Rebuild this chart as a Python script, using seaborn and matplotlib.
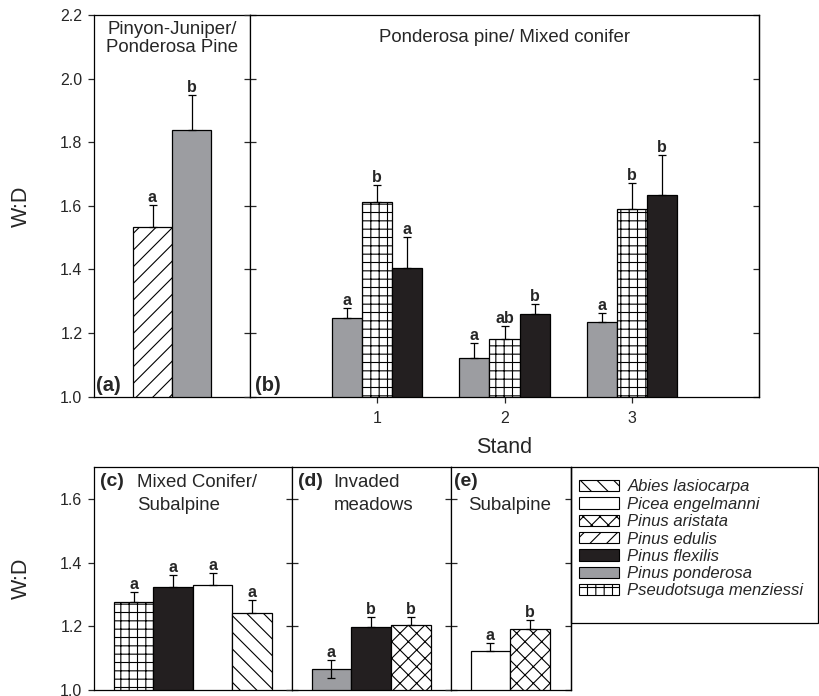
import numpy as np
import pandas as pd
import matplotlib
matplotlib.use("Agg")
import matplotlib.pyplot as plt
import seaborn as sns
from matplotlib.patches import Patch, Rectangle
from matplotlib.ticker import FormatStrFormatter, MultipleLocator

# ---------------- data ----------------
species_order = ["Abies lasiocarpa", "Picea engelmanni", "Pinus aristata", "Pinus edulis",
                 "Pinus flexilis", "Pinus ponderosa", "Pseudotsuga menziessi"]
species_colors = ["white", "white", "white", "white", "#231f20", "#9c9da1", "white"]
species_hatches = ["\\\\", "", "xx", "//", "", "", "++"]

# (a) Pinyon-Juniper / Ponderosa Pine
a_species = ["Pinus edulis", "Pinus ponderosa"]
a_mean = [1.532, 1.837]
a_err = [0.072, 0.110]
a_letters = ["a", "b"]

# (b) Ponderosa pine / Mixed conifer, by stand
b_stands = ["1", "2", "3"]
b_species = ["Pinus ponderosa", "Pseudotsuga menziessi", "Pinus flexilis"]
b_ponderosa = [1.248, 1.121, 1.234]
b_ponderosa_err = [0.032, 0.047, 0.028]
b_pseudotsuga = [1.611, 1.180, 1.589]
b_pseudotsuga_err = [0.054, 0.041, 0.084]
b_flexilis = [1.404, 1.259, 1.633]
b_flexilis_err = [0.099, 0.033, 0.128]
b_letters_ponderosa = ["a", "a", "a"]
b_letters_pseudotsuga = ["b", "ab", "b"]
b_letters_flexilis = ["a", "b", "b"]

# (c) Mixed Conifer / Subalpine
c_species = ["Pseudotsuga menziessi", "Pinus flexilis", "Picea engelmanni", "Abies lasiocarpa"]
c_mean = [1.276, 1.324, 1.331, 1.242]
c_err = [0.031, 0.038, 0.036, 0.042]
c_letters = ["a", "a", "a", "a"]

# (d) Invaded meadows
d_species = ["Pinus ponderosa", "Pinus flexilis", "Pinus aristata"]
d_mean = [1.065, 1.198, 1.204]
d_err = [0.030, 0.033, 0.026]
d_err_low = [0.028, 0.0, 0.0]
d_letters = ["a", "b", "b"]

# (e) Subalpine
e_species = ["Picea engelmanni", "Pinus aristata"]
e_mean = [1.122, 1.192]
e_err = [0.025, 0.027]
e_letters = ["a", "b"]

# ---------------- style ----------------
sns.set_style("ticks")
plt.rcParams["font.family"] = ["Liberation Sans", "DejaVu Sans"]
plt.rcParams["hatch.linewidth"] = 0.8
plt.rcParams["axes.linewidth"] = 0.9
plt.rcParams["axes.edgecolor"] = "black"

palette = dict(zip(species_order, species_colors))
hatch_map = dict(zip(species_order, species_hatches))

W, H = 819, 696
fig = plt.figure(figsize=(W / 100, H / 100), dpi=100)


def px_axes(x0, y0, x1, y1):
    return fig.add_axes([x0 / W, 1 - y1 / H, (x1 - x0) / W, (y1 - y0) / H])


ax_a = px_axes(94, 15, 250, 396.7)
ax_b = px_axes(250, 15, 759, 396.7)
ax_c = px_axes(94, 467.3, 291.7, 690)
ax_d = px_axes(291.7, 467.3, 450.7, 690)
ax_e = px_axes(450.7, 467.3, 571, 690)

LETTER_FS = 11.5
TICK_FS = 11.5


def add_err_letters(ax, xs, means, ups, lows, letters):
    ax.errorbar(xs, means, yerr=[lows, ups], fmt="none", ecolor="black",
                elinewidth=0.9, capsize=3, capthick=0.9, zorder=3)
    for x, m, u, t in zip(xs, means, ups, letters):
        ax.annotate(t, xy=(x, m + u), xytext=(0, 3), textcoords="offset pixels",
                    ha="center", va="baseline", fontweight="bold", fontsize=LETTER_FS)


def simple_panel(ax, species, means, ups, lows, letters, xlim):
    df = pd.DataFrame({"species": species, "wd": means})
    sns.barplot(data=df, x="species", y="wd", hue="species", order=species,
                hue_order=species, palette=palette, width=1.0, saturation=1,
                edgecolor="black", linewidth=0.9, errorbar=None, legend=False, ax=ax)
    centers = [None] * len(species)
    for p in ax.patches:
        c = p.get_x() + p.get_width() / 2
        i = int(round(c))
        p.set_hatch(hatch_map[species[i]])
        centers[i] = c
    add_err_letters(ax, centers, means, ups, lows, letters)
    ax.set_xlim(*xlim)
    ax.set_xlabel("")
    ax.set_ylabel("")
    ax.set_xticks([])


# (a)
simple_panel(ax_a, a_species, a_mean, a_err, [0] * len(a_mean), a_letters, (-1.5, 2.5))

# (b)
rows = []
for sp, vals in zip(b_species, [b_ponderosa, b_pseudotsuga, b_flexilis]):
    for st, v in zip(b_stands, vals):
        rows.append({"stand": st, "species": sp, "wd": v})
df_b = pd.DataFrame(rows)
group_w = 0.71
sns.barplot(data=df_b, x="stand", y="wd", hue="species", order=b_stands,
            hue_order=b_species, palette=palette, width=group_w, gap=0, saturation=1,
            edgecolor="black", linewidth=0.9, errorbar=None, legend=False, ax=ax_b)
b_means = [b_ponderosa, b_pseudotsuga, b_flexilis]
b_errs = [b_ponderosa_err, b_pseudotsuga_err, b_flexilis_err]
b_lets = [b_letters_ponderosa, b_letters_pseudotsuga, b_letters_flexilis]
bw = group_w / len(b_species)
xs, ms, us, ls = [], [], [], []
for p in ax_b.patches:
    c = p.get_x() + p.get_width() / 2
    s = int(round(c))
    h = int(round((c - s) / bw)) + 1
    p.set_hatch(hatch_map[b_species[h]])
    xs.append(c)
    ms.append(b_means[h][s])
    us.append(b_errs[h][s])
    ls.append(b_lets[h][s])
add_err_letters(ax_b, xs, ms, us, [0] * len(xs), ls)
ax_b.set_xlim(-1.0, 3.0)
ax_b.set_ylabel("")
ax_b.set_xlabel("Stand", fontsize=15.5, labelpad=8)

# (c), (d), (e)
simple_panel(ax_c, c_species, c_mean, c_err, [0] * len(c_mean), c_letters, (-1.0, 4.0))
simple_panel(ax_d, d_species, d_mean, d_err, d_err_low, d_letters, (-1.0, 3.0))
simple_panel(ax_e, e_species, e_mean, e_err, [0] * len(e_mean), e_letters, (-1.0, 2.03))

# ---------------- axes / ticks ----------------
for ax in (ax_a, ax_b):
    ax.set_ylim(1.0, 2.2)
for ax in (ax_c, ax_d, ax_e):
    ax.set_ylim(1.0, 1.7)
for ax in (ax_a, ax_b, ax_c, ax_d, ax_e):
    ax.yaxis.set_major_locator(MultipleLocator(0.2))
    ax.yaxis.set_major_formatter(FormatStrFormatter("%.1f"))
    for s in ax.spines.values():
        s.set_visible(True)
        s.set_linewidth(0.9)
        s.set_color("black")

for ax in (ax_a, ax_c):
    ax.tick_params(axis="y", direction="out", length=4.3, width=0.9, labelsize=TICK_FS,
                   pad=4, left=True, right=False)
for ax in (ax_b, ax_d, ax_e):
    ax.tick_params(axis="y", direction="inout", length=8.6, width=0.9, labelleft=False,
                   left=True, right=False)
for ax in (ax_a, ax_c, ax_d, ax_e):
    ax.tick_params(axis="x", bottom=False, labelbottom=False)
ax_b.tick_params(axis="x", direction="out", length=4.3, width=0.9, labelsize=TICK_FS, pad=6)

for ax in (ax_b, ax_e):
    sec = ax.secondary_yaxis("right")
    sec.yaxis.set_major_locator(MultipleLocator(0.2))
    sec.tick_params(direction="in", length=4.3, width=0.9, labelright=False)
    sec.spines["right"].set_linewidth(0.9)

# ---------------- texts ----------------
TITLE_FS = 13.4
ax_a.annotate("Pinyon-Juniper/\nPonderosa Pine", xy=(0.5, 1), xycoords="axes fraction",
              xytext=(0, -6.5), textcoords="offset pixels", ha="center", va="top",
              fontsize=TITLE_FS, linespacing=1.05)
ax_b.annotate("Ponderosa pine/ Mixed conifer", xy=(0.5, 1), xycoords="axes fraction",
              xytext=(0, -14.5), textcoords="offset pixels", ha="center", va="top",
              fontsize=TITLE_FS)
ax_a.annotate("(a)", xy=(0, 0), xycoords="axes fraction", xytext=(2, 1.5),
              textcoords="offset pixels", ha="left", va="bottom", fontsize=14.5, fontweight="bold")
ax_b.annotate("(b)", xy=(0, 0), xycoords="axes fraction", xytext=(5, 1.5),
              textcoords="offset pixels", ha="left", va="bottom", fontsize=14.5, fontweight="bold")

TOP_DY = -6.0
LINE_DY = 23.0
for ax, lab, lab_dx, lines, txt_dx in [
    (ax_c, "(c)", 6, ["Mixed Conifer/", "Subalpine"], 43),
    (ax_d, "(d)", 6, ["Invaded", "meadows"], 42),
    (ax_e, "(e)", 3, ["", "Subalpine"], 17),
]:
    ax.annotate(lab, xy=(0, 1), xycoords="axes fraction", xytext=(lab_dx, TOP_DY),
                textcoords="offset pixels", ha="left", va="top",
                fontsize=14, fontweight="bold")
    for k, line in enumerate(lines):
        if line:
            ax.annotate(line, xy=(0, 1), xycoords="axes fraction",
                        xytext=(txt_dx, TOP_DY - 1 - k * LINE_DY),
                        textcoords="offset pixels", ha="left", va="top", fontsize=TITLE_FS)

fig.text(21.5 / W, 1 - 206 / H, "W:D", rotation=90, ha="center", va="center", fontsize=15.5)
fig.text(21.5 / W, 1 - 578.5 / H, "W:D", rotation=90, ha="center", va="center", fontsize=15.5)

# ---------------- legend ----------------
fig.add_artist(Rectangle((571 / W, 1 - 623 / H), 247 / W, 156 / H, transform=fig.transFigure,
                         fill=False, edgecolor="black", linewidth=0.9))
handles = [Patch(facecolor=c, edgecolor="black", hatch=h, linewidth=0.8)
           for c, h in zip(species_colors, species_hatches)]
fig.legend(handles, species_order, loc="upper left",
           bbox_to_anchor=(579 / W, 1 - 479.5 / H), bbox_transform=fig.transFigure,
           frameon=False, borderpad=0, borderaxespad=0, handlelength=2.4,
           handleheight=0.65, handletextpad=0.5, labelspacing=0.14,
           prop={"style": "italic", "size": 12, "family": "Liberation Sans"})

fig.savefig("out.png", dpi=100)
